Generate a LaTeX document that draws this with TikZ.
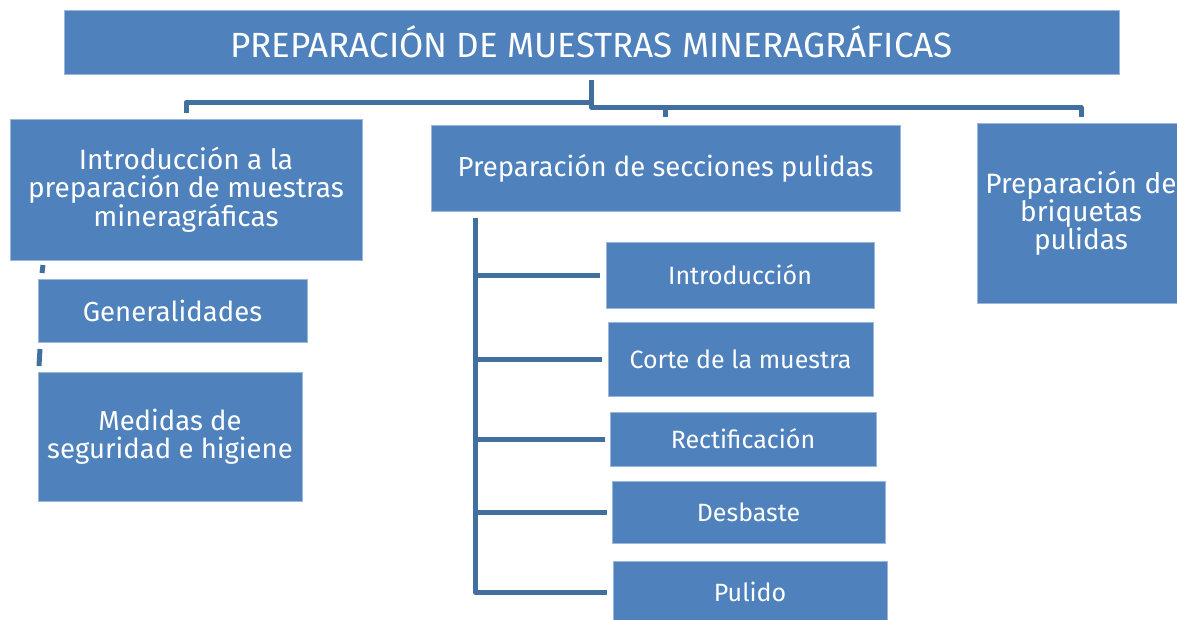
\documentclass[tikz,border=0pt]{standalone}
\usepackage{fontspec}
\setmainfont{Fira Sans}
\usetikzlibrary{calc}
\definecolor{boxblue}{HTML}{4F81BD}
\definecolor{boxedge}{HTML}{9DB7DA}
\definecolor{connblue}{HTML}{41709F}
\tikzset{
  box/.style={fill=boxblue, draw=boxedge, line width=0.6pt, text=white, inner sep=0pt, align=center},
  conn/.style={draw=connblue, line width=5pt, line join=round},
  big/.style={font=\fontsize{35}{38}\selectfont},
  mid/.style={font=\fontsize{28}{28}\selectfont},
  midb/.style={font=\fontsize{27.5}{28}\selectfont},
  small/.style={font=\fontsize{25}{28}\selectfont}
}
\begin{document}
\begin{tikzpicture}[x=1pt,y=-1pt]
\useasboundingbox (0,0) rectangle (1177,619);
% nodes
\node[box,big,minimum width=1055pt,minimum height=64pt] (title) at (591.5,42) {PREPARACIÓN DE MUESTRAS MINERAGRÁFICAS};
\node[box,mid,minimum width=352pt,minimum height=141pt] (A) at (186,189.5) {Introducción a la\\preparación de muestras\\mineragráficas};
\node[box,midb,minimum width=469pt,minimum height=86pt] (B) at (665.5,168) {Preparación de secciones pulidas};
\node[box,mid,minimum width=208pt,minimum height=180pt] (C) at (1081,213) {Preparación de\\briquetas\\pulidas};
\node[box,midb,minimum width=269pt,minimum height=63pt] (gen) at (172.5,310.5) {Generalidades};
\node[box,midb,minimum width=264pt,minimum height=129pt] (med) at (170,436.5) {Medidas de\\seguridad e higiene};
\node[box,small,minimum width=268pt,minimum height=66pt] (intro) at (740,275) {Introducción};
\node[box,small,minimum width=265pt,minimum height=74pt] (corte) at (740.5,359) {Corte de la muestra};
\node[box,small,minimum width=266pt,minimum height=54pt] (rect) at (743,439) {Rectificación};
\node[box,small,minimum width=273pt,minimum height=62pt] (desb) at (748.5,512) {Desbaste};
\node[box,small,minimum width=274pt,minimum height=62pt] (pul) at (750,592) {Pulido};
% top connectors
\coordinate (jl) at ($(title.south)+(0,28)$);
\coordinate (jr) at ($(title.south)+(0,33)$);
\draw[conn] ([yshift=-6pt]title.south) -- (jl) -| ([yshift=6pt]A.north);
\draw[conn] ([yshift=-6pt]title.south) -- (jr) -| ([yshift=6pt]C.north);
\draw[conn] (jr -| B.north) -- ([yshift=8pt]B.north);
% middle tree
\coordinate (trunk) at (475,0);
\draw[conn] ([yshift=-7pt]B.south -| trunk) |- ([xshift=-6pt]pul.west);
\draw[conn] (intro.west -| trunk) -- ([xshift=-6pt]intro.west);
\draw[conn] (corte.west -| trunk) -- ([xshift=-6pt]corte.west);
\draw[conn] (rect.west -| trunk) -- ([xshift=-5pt]rect.west);
\draw[conn] (desb.west -| trunk) -- ([xshift=-5pt]desb.west);
% left stubs
\coordinate (s1) at (43,265);
\coordinate (s2) at (42,273);
\coordinate (s3) at (40,349);
\coordinate (s4) at (39,366);
\draw[conn,line join=miter] (s1) -- (s2);
\draw[conn,line join=miter] (s3) -- (s4);
\end{tikzpicture}
\end{document}
